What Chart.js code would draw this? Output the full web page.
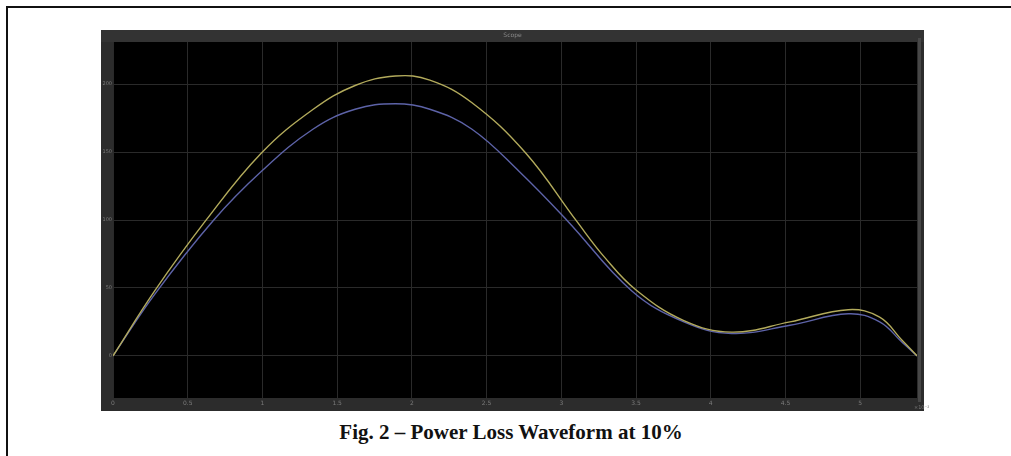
<!DOCTYPE html>
<html>
<head>
<meta charset="utf-8">
<script src="https://cdn.jsdelivr.net/npm/chart.js@4/dist/chart.umd.min.js"></script>
<style>
  html, body { margin: 0; padding: 0; background: #fff; }
  body { width: 1011px; height: 456px; position: relative; overflow: hidden; }
  #frame { position: absolute; left: 6px; top: 6px; width: 1100px; height: 600px;
           border-top: 2px solid #111; border-left: 2px solid #111; }
  #scope { position: absolute; left: 101px; top: 30px; }
  #scopeTitle { position: absolute; left: 101px; top: 31px; width: 823px; text-align: center;
                font: 6px "DejaVu Sans", sans-serif; color: #8a8a8a; }
  #xExp { position: absolute; left: 914px; top: 404px; font: 5px "DejaVu Sans", sans-serif; color: #7a7a7a; }
  #caption { position: absolute; left: 0; top: 420px; width: 1022px; text-align: center;
             font: bold 21px "Liberation Serif", "Times New Roman", serif; color: #111; }
</style>
</head>
<body>
<div id="frame"></div>
<canvas id="scope" width="823" height="381"></canvas>
<div id="scopeTitle">Scope</div>
<div id="xExp">×10⁻²</div>
<div id="caption">Fig. 2 – Power Loss Waveform at 10%</div>
<script>
// values (x in 10^-2 s, y in W)
const yellowX = [0, 0.28, 0.62, 0.99, 1.34, 1.62, 1.89, 2.12, 2.40, 2.76, 3.10, 3.29, 3.50, 3.82, 4.14, 4.53, 4.92, 5.13, 5.28, 5.38];
const yellowY = [0, 48, 99.5, 149, 181.5, 199, 206, 203, 186.5, 149.5, 99.5, 72.5, 48.5, 26, 17.5, 25, 34, 28.5, 11.5, 0];
const blueX = [0, 0.28, 0.67, 0.99, 1.34, 1.62, 1.89, 2.12, 2.40, 2.72, 3.04, 3.47, 3.82, 4.14, 4.53, 4.92, 5.13, 5.28, 5.38];
const blueY = [0, 45.5, 99.5, 135.5, 167, 181.5, 185.5, 181.5, 167, 135.5, 99.5, 48, 25, 16.5, 22.5, 31, 25, 10, 0];
const xTickLabels = ['0', '0.5', '1', '1.5', '2', '2.5', '3', '3.5', '4', '4.5', '5'];
const yTickLabels = ['0', '50', '100', '150', '200'];

function toPoints(xs, ys) {
    return xs.map((x, i) => ({ x: x, y: ys[i] }));
}

//Paints the grey scope frame, its title bar and the black plot area
const scopeBackground = {
    id: 'scopeBackground',
    beforeDraw(chart) {
        const ctx = chart.ctx;
        const a = chart.chartArea;
        ctx.save();
        ctx.fillStyle = '#2c2c2c';
        ctx.fillRect(0, 0, chart.width, chart.height);
        ctx.fillStyle = '#333333';
        ctx.fillRect(0, 0, chart.width, a.top);
        ctx.fillStyle = '#000';
        ctx.fillRect(a.left, a.top, a.right - a.left, a.bottom - a.top);
        ctx.fillStyle = '#474747';
        ctx.fillRect(a.right + 1, a.top - 4, 3, a.bottom - a.top + 8);
        ctx.restore();
    }
};

new Chart(document.getElementById('scope'), {
    type: 'line',
    data: {
        datasets: [
            {
                label: 'Loss 1',
                data: toPoints(yellowX, yellowY),
                borderColor: '#b3ab5c',
                borderWidth: 1.4,
                pointRadius: 0,
                tension: 0.4
            },
            {
                label: 'Loss 2',
                data: toPoints(blueX, blueY),
                borderColor: '#5d63a8',
                borderWidth: 1.4,
                pointRadius: 0,
                tension: 0.4
            }
        ]
    },
    options: {
        responsive: false,
        animation: false,
        devicePixelRatio: 1,
        layout: { padding: { top: 12, right: 7, left: 0, bottom: 0 } },
        plugins: { legend: { display: false }, tooltip: { enabled: false } },
        scales: {
            x: {
                type: 'linear',
                min: 0,
                max: 5.38,
                afterFit: (s) => { s.height = 13; },
                border: { display: false },
                grid: { color: '#2a2a2a', lineWidth: 1, drawTicks: false },
                ticks: {
                    stepSize: 0.5,
                    includeBounds: false,
                    padding: 2,
                    maxRotation: 0,
                    autoSkip: false,
                    color: '#7a7a7a',
                    font: { size: 6, family: 'DejaVu Sans' },
                    callback: (v) => xTickLabels[Math.round(v / 0.5)]
                }
            },
            y: {
                min: -31,
                max: 231,
                afterFit: (s) => { s.width = 12; },
                border: { display: false },
                grid: { color: '#2a2a2a', lineWidth: 1, drawTicks: false },
                ticks: {
                    stepSize: 50,
                    includeBounds: false,
                    padding: 1,
                    color: '#7a7a7a',
                    font: { size: 5, family: 'DejaVu Sans' },
                    callback: (v) => yTickLabels[Math.round(v / 50)]
                }
            }
        }
    },
    plugins: [scopeBackground]
});
</script>
</body>
</html>
